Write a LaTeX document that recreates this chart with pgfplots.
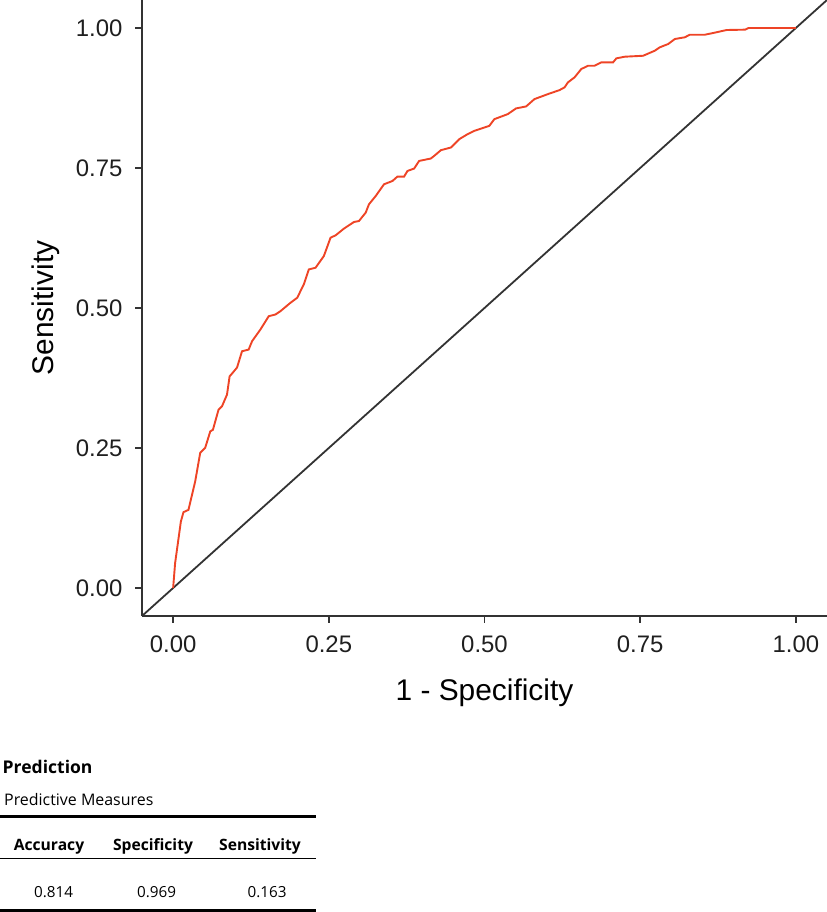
\documentclass[border=0pt]{standalone}
\usepackage{pgfplots}
\pgfplotsset{compat=1.18}
\usepackage{fontspec}
\setmainfont{Liberation Sans}
\newfontfamily\tabfont{Open Sans}
\definecolor{roc}{RGB}{238,68,38}
\definecolor{axgray}{RGB}{51,51,51}

\begin{document}
\begin{tikzpicture}[x=1bp,y=1bp]
\path[use as bounding box] (0,0) rectangle (827,912);
\begin{axis}[
    at={(142bp,296bp)}, anchor=south west,
    scale only axis, width=685bp, height=616bp,
    xmin=-0.05, xmax=1.05, ymin=-0.05, ymax=1.05,
    axis lines=left,
    axis line style={-, axgray, line width=1.5bp},
    xtick={0,0.25,0.5,0.75,1}, ytick={0,0.25,0.5,0.75,1},
    xticklabels={0.00,0.25,0.50,0.75,1.00},
    yticklabels={0.00,0.25,0.50,0.75,1.00},
    tick align=outside, major tick length=7bp,
    tick style={axgray, line width=1.5bp},
    ticklabel style={font=\fontsize{24}{28}\selectfont, text=black!88},
    xticklabel style={yshift=-9bp},
    yticklabel style={xshift=-9bp},
    xlabel={1 - Specificity}, ylabel={Sensitivity},
    label style={font=\fontsize{30}{34}\selectfont, text=black},
    xlabel style={at={(axis description cs:0.5,0)}, anchor=north, inner sep=0, yshift=-63bp},
    ylabel style={at={(axis description cs:0,0.5)}, anchor=center, inner sep=0, yshift=96bp},
]
\addplot[axgray, line width=1.8bp] coordinates {(-0.05,-0.05)(1.05,1.05)};
\addplot[roc, line width=1.9bp] coordinates {
(0,0)(0.0032,0.0447)(0.0124,0.1186)(0.0166,0.1354)(0.0246,0.1395)
(0.0354,0.1902)(0.0435,0.2415)(0.0515,0.2504)(0.0596,0.2796)(0.0639,0.2826)
(0.0729,0.3184)(0.0784,0.3243)(0.0865,0.3453)(0.0907,0.3780)(0.0945,0.3828)
(0.1026,0.3936)(0.1106,0.4227)(0.1213,0.4258)(0.1267,0.4406)(0.1401,0.4615)
(0.1535,0.4853)(0.1643,0.4884)(0.1723,0.4943)(0.1884,0.5093)(0.1992,0.5182)
(0.2098,0.5420)(0.2179,0.5689)(0.2287,0.5719)(0.2420,0.5927)(0.2528,0.6256)
(0.2609,0.6297)(0.2742,0.6417)(0.2903,0.6535)(0.2984,0.6553)(0.3092,0.6703)
(0.3145,0.6852)(0.3253,0.7000)(0.3386,0.7209)(0.3522,0.7268)(0.3602,0.7347)
(0.3709,0.7347)(0.3763,0.7447)(0.3870,0.7490)(0.3950,0.7626)(0.4138,0.7669)
(0.4192,0.7716)(0.4300,0.7818)(0.4461,0.7866)(0.4594,0.8014)(0.4729,0.8104)
(0.4836,0.8163)(0.5077,0.8252)(0.5158,0.8372)(0.5374,0.8462)(0.5507,0.8564)
(0.5668,0.8599)(0.5802,0.8730)(0.6018,0.8819)(0.6205,0.8891)(0.6285,0.8939)
(0.6340,0.9029)(0.6446,0.9118)(0.6554,0.9267)(0.6662,0.9326)(0.6768,0.9326)
(0.6876,0.9386)(0.7064,0.9386)(0.7118,0.9458)(0.7251,0.9487)(0.7547,0.9504)
(0.7734,0.9594)(0.7815,0.9655)(0.7950,0.9714)(0.8056,0.9803)(0.8217,0.9834)
(0.8298,0.9880)(0.8539,0.9880)(0.8675,0.9911)(0.8889,0.9964)(0.9184,0.9970)
(0.9238,1.0)(1.0,1.0)
};
\end{axis}
% results table below the plot
\node[anchor=base west, inner sep=0] at (2.5,138) {\tabfont\bfseries\fontsize{17.6}{21}\selectfont Prediction};
\node[anchor=base west, inner sep=0] at (4,106) {\tabfont\fontsize{16}{19}\selectfont Predictive Measures};
\draw[line width=2.5bp] (0,95.3) -- (316,95.3);
\node[anchor=base, inner sep=0] at (49,61) {\tabfont\bfseries\fontsize{15.7}{19}\selectfont Accuracy};
\node[anchor=base, inner sep=0] at (153,61) {\tabfont\bfseries\fontsize{15.7}{19}\selectfont Specificity};
\node[anchor=base, inner sep=0] at (260,61) {\tabfont\bfseries\fontsize{15.7}{19}\selectfont Sensitivity};
\draw[line width=1bp] (0,53) -- (316,53);
\node[anchor=base, inner sep=0] at (53.5,14) {\tabfont\fontsize{15.3}{18}\selectfont 0.814};
\node[anchor=base, inner sep=0] at (156.5,14) {\tabfont\fontsize{15.3}{18}\selectfont 0.969};
\node[anchor=base, inner sep=0] at (267,14) {\tabfont\fontsize{15.3}{18}\selectfont 0.163};
\draw[line width=3bp] (0,1.5) -- (316,1.5);
\end{tikzpicture}
\end{document}
